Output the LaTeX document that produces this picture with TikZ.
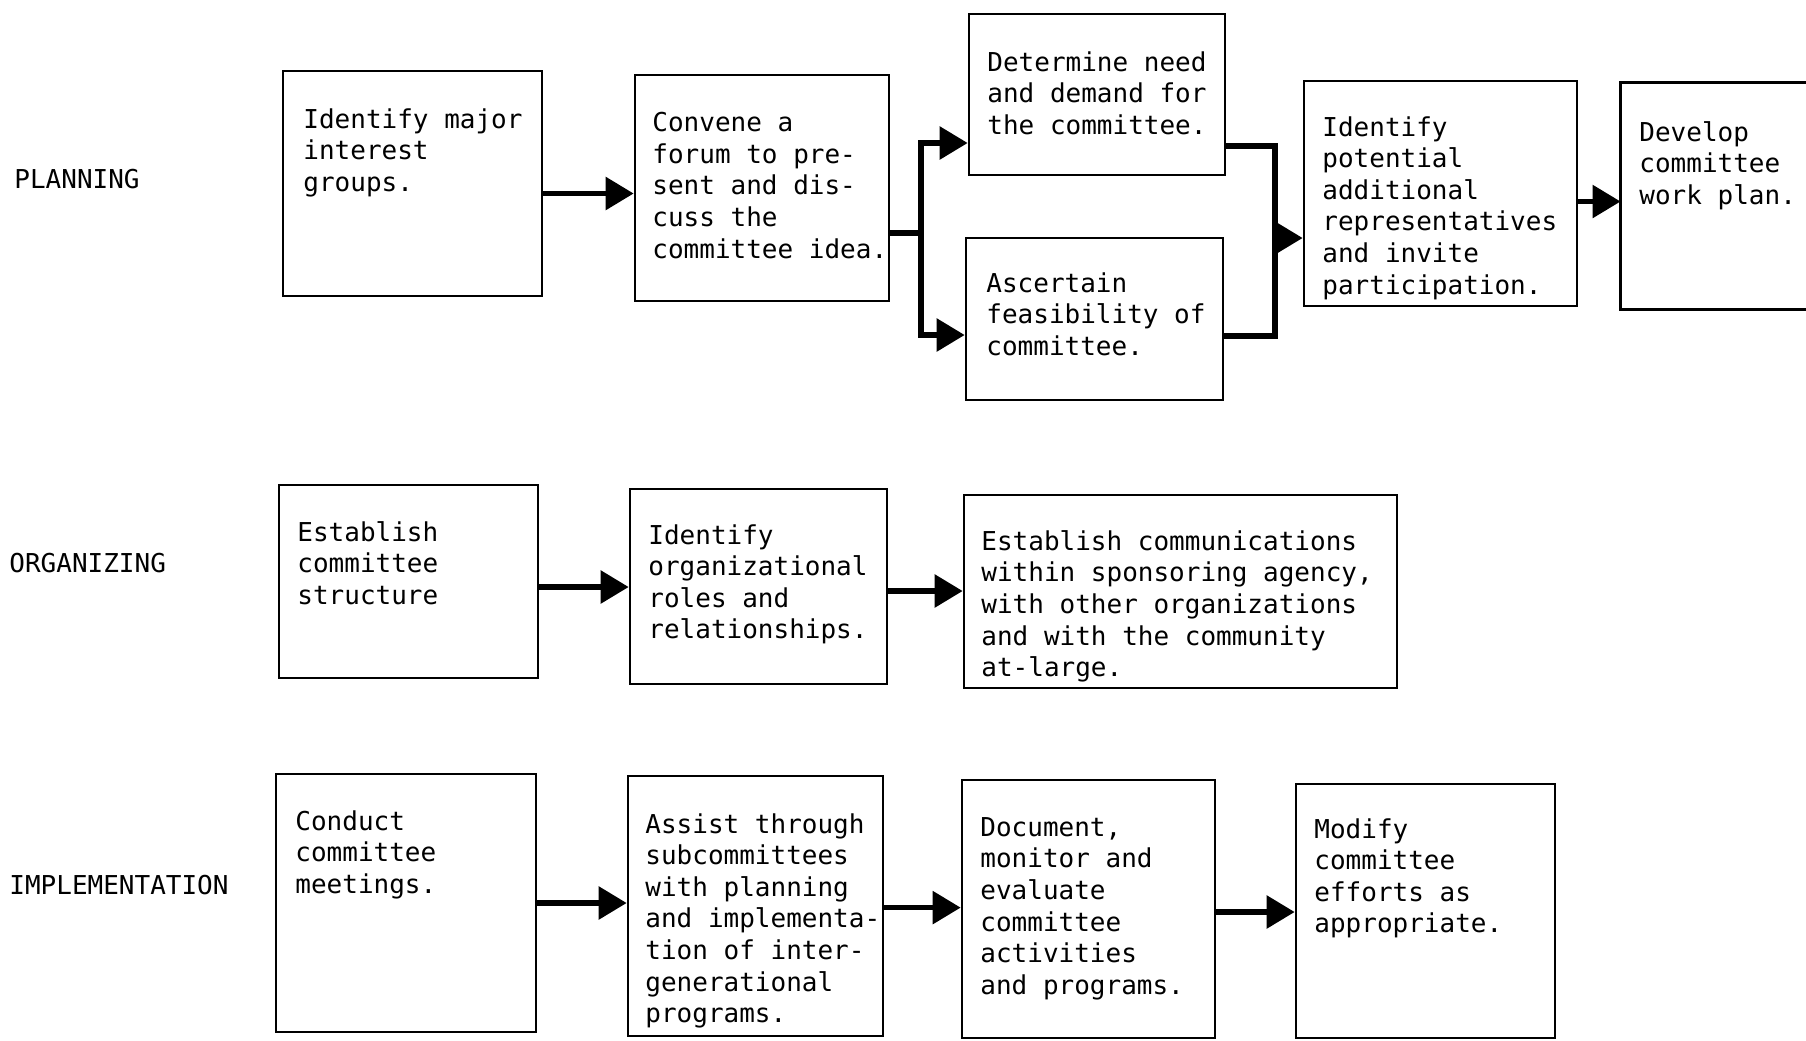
\documentclass[tikz,border=0pt]{standalone}
\usepackage{fontspec}
\setmainfont{DejaVu Sans Mono}
\usetikzlibrary{arrows.meta,fit}
\begin{document}
\begin{tikzpicture}[x=0.5pt,y=-0.5pt,
  box/.style={draw, line width=1.3pt, inner sep=0pt},
  openbox/.style={inner sep=0pt},
  txt/.style={anchor=north west, inner sep=0pt, align=left, font=\fontsize{13}{15.8}\selectfont},
  lbl/.style={anchor=west, inner sep=0pt, font=\fontsize{13}{15.8}\selectfont},
  conn/.style={line width=2.8pt, -{Triangle[length=14pt,width=16pt]}},
  seg/.style={line width=2.8pt}]
\useasboundingbox[fill=white] (0,0) rectangle (1806,1040);

% row labels
\node[lbl] (lp) at (14,179) {PLANNING};
\node[lbl] (lo) at (9,563) {ORGANIZING};
\node[lbl] (li) at (9,885) {IMPLEMENTATION};

% planning boxes
\node[box, fit={(283,71) (542,296)}] (A) {};
\node[box, fit={(635,75) (889,301)}] (B) {};
\node[box, fit={(969,14) (1225,175)}] (C) {};
\node[box, fit={(966,238) (1223,400)}] (D) {};
\node[box, fit={(1304,81) (1577,306)}] (E) {};
\node[openbox, fit={(1621,83) (1806,309)}] (F) {};
\draw[line width=1.3pt] (F.north east) -- (F.north west) -- (F.south west) -- (F.south east);

\node[txt] (tA) at (303,108) {Identify major\\interest\\groups.};
\node[txt] (tB) at (652,112) {Convene a\\forum to pre-\\sent and dis-\\cuss the\\committee idea.};
\node[txt] (tC) at (987,51) {Determine need\\and demand for\\the committee.};
\node[txt] (tD) at (986,272) {Ascertain\\feasibility of\\committee.};
\node[txt] (tE) at (1322,116) {Identify\\potential\\additional\\representatives\\and invite\\participation.};
\node[txt] (tF) at (1639,121) {Develop\\committee\\work plan.};

% organizing boxes
\node[box, fit={(279,485) (538,678)}] (G) {};
\node[box, fit={(630,489) (887,684)}] (H) {};
\node[box, fit={(964,495) (1397,688)}] (I) {};
\node[txt] (tG) at (297,521) {Establish\\committee\\structure};
\node[txt] (tH) at (648,524) {Identify\\organizational\\roles and\\relationships.};
\node[txt] (tI) at (981,530) {Establish communications\\within sponsoring agency,\\with other organizations\\and with the community\\at-large.};

% implementation boxes
\node[box, fit={(276,774) (536,1032)}] (J) {};
\node[box, fit={(628,776) (883,1036)}] (K) {};
\node[box, fit={(962,780) (1215,1038)}] (L) {};
\node[box, fit={(1296,784) (1555,1038)}] (M) {};
\node[txt] (tJ) at (295,810) {Conduct\\committee\\meetings.};
\node[txt] (tK) at (645,813) {Assist through\\subcommittees\\with planning\\and implementa-\\tion of inter-\\generational\\programs.};
\node[txt] (tL) at (980,817) {Document,\\monitor and\\evaluate\\committee\\activities\\and programs.};
\node[txt] (tM) at (1314,818) {Modify\\committee\\efforts as\\appropriate.};

% planning connectors
\draw[conn] (A.east |- 0,193.5) -- (B.west |- 0,193.5);
\coordinate (sp) at (921,233);
\draw[seg] (B.east |- sp) -- (sp);
\draw[conn] (sp) |- (C.west |- 0,143);
\draw[conn] (sp) |- (D.west |- 0,335);
\coordinate (mg) at (1275,238);
\draw[seg] (C.east |- 0,146) -| (mg);
\draw[seg] (D.east |- 0,336) -| (mg);
\draw[conn] (mg) -- (E.west |- mg);
\draw[conn] (E.east |- 0,201.5) -- (F.west |- 0,201.5);

% organizing connectors
\draw[conn] (G.east |- 0,587) -- (H.west |- 0,587);
\draw[conn] (H.east |- 0,591) -- (I.west |- 0,591);

% implementation connectors
\draw[conn] (J.east |- 0,903) -- (K.west |- 0,903);
\draw[conn] (K.east |- 0,907.6) -- (L.west |- 0,907.6);
\draw[conn] (L.east |- 0,912) -- (M.west |- 0,912);
\end{tikzpicture}
\end{document}
